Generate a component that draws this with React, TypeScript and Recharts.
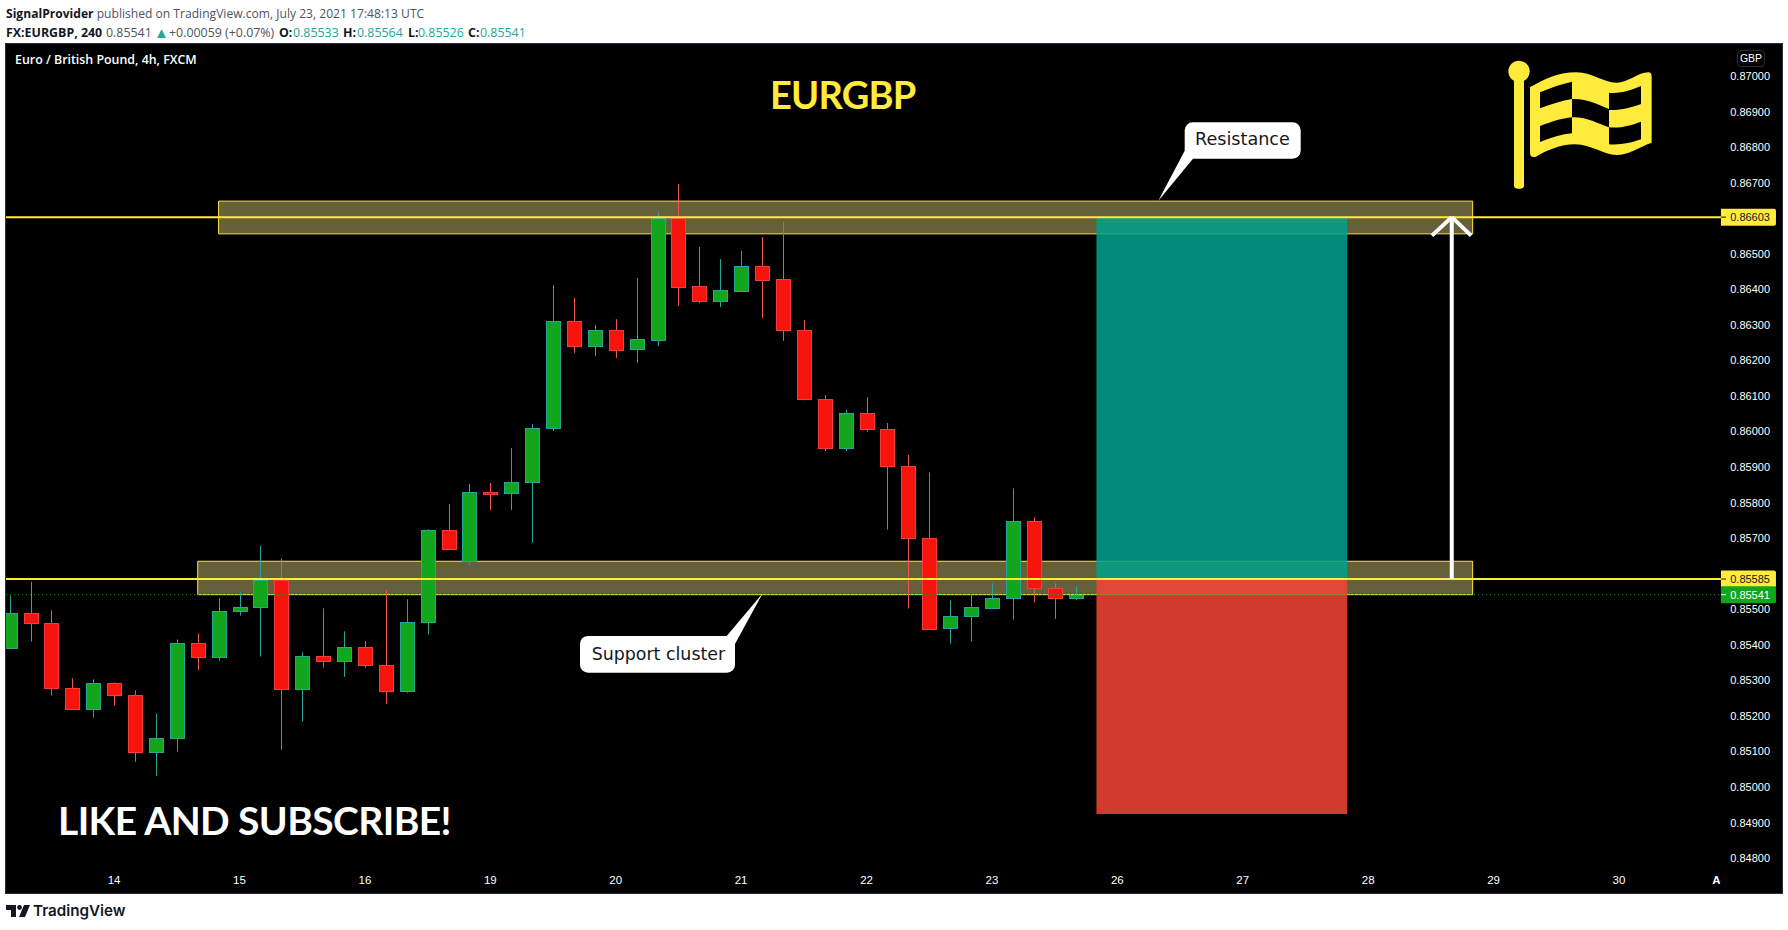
import { ComposedChart, Bar, XAxis, YAxis, ReferenceArea, ReferenceLine, ReferenceDot } from 'recharts';

// candles, oldest first
const opens = [
  0.8539, 0.85489, 0.8546, 0.85278, 0.8522, 0.85292, 0.85258, 0.85099, 0.85136, 0.85404, 0.85364, 0.85493, 0.85505,
  0.85581, 0.85274, 0.85368, 0.85355, 0.85393, 0.85342, 0.85268, 0.85462, 0.85722, 0.85634, 0.8583, 0.85825, 0.85857,
  0.86008, 0.8631, 0.86239, 0.86285, 0.8623, 0.86258, 0.866, 0.86408, 0.86365, 0.86396, 0.86465, 0.86428, 0.86285,
  0.86091, 0.85952, 0.86051, 0.86006, 0.85902, 0.857, 0.85445, 0.85479, 0.85504, 0.8553, 0.85747, 0.85559, 0.85533,
];
const closes = [
  0.85489, 0.8546, 0.85278, 0.8522, 0.85292, 0.85258, 0.85099, 0.85137, 0.85404, 0.85364, 0.85494, 0.85505, 0.85581,
  0.85274, 0.85368, 0.85355, 0.85393, 0.85341, 0.85268, 0.85463, 0.85722, 0.85668, 0.85829, 0.85825, 0.85857, 0.86009,
  0.8631, 0.86239, 0.86285, 0.8623, 0.86259, 0.866, 0.86407, 0.86365, 0.86397, 0.86465, 0.86427, 0.86284, 0.8609,
  0.85952, 0.86051, 0.86005, 0.85901, 0.85699, 0.85445, 0.8548, 0.85505, 0.85531, 0.85747, 0.85559, 0.8553, 0.85541,
];
const highs = [
  0.85538, 0.85577, 0.85497, 0.85306, 0.85303, 0.85294, 0.85272, 0.85207, 0.85415, 0.85432, 0.85532, 0.85548, 0.85678,
  0.85643, 0.85379, 0.85503, 0.85438, 0.8541, 0.85554, 0.85528, 0.85725, 0.85796, 0.85852, 0.85855, 0.85954, 0.86021,
  0.86412, 0.86376, 0.863, 0.86316, 0.86432, 0.86617, 0.86696, 0.86519, 0.86485, 0.86508, 0.86547, 0.86589, 0.86314,
  0.86103, 0.86061, 0.86096, 0.86024, 0.85934, 0.85885, 0.85525, 0.85542, 0.85573, 0.8584, 0.85759, 0.85573, 0.85564,
];
const lows = [
  0.85388, 0.85409, 0.85257, 0.85218, 0.85195, 0.85229, 0.85071, 0.85032, 0.85099, 0.85329, 0.85355, 0.85482, 0.85367,
  0.85105, 0.85184, 0.85336, 0.8531, 0.85336, 0.85234, 0.85265, 0.85429, 0.85666, 0.85625, 0.85779, 0.85779, 0.85687,
  0.86001, 0.86221, 0.86212, 0.86207, 0.86193, 0.8624, 0.86353, 0.86361, 0.8635, 0.86392, 0.86319, 0.86255, 0.86088,
  0.85945, 0.85945, 0.85999, 0.85724, 0.85502, 0.85443, 0.85403, 0.85409, 0.85501, 0.85471, 0.85519, 0.85473, 0.85526,
];

const dayTicks = [5, 11, 17, 23, 29, 35, 41, 47, 53, 59, 65, 71, 77, 82];
const dayLabels = ['14', '15', '16', '19', '20', '21', '22', '23', '26', '27', '28', '29', '30', 'Aug'];
// 0.86600 and 0.85600 sit behind the price tags in the picture
const priceTicks = [
  0.87, 0.869, 0.868, 0.867, 0.865, 0.864, 0.863, 0.862, 0.861, 0.86, 0.859, 0.858, 0.857, 0.855, 0.854, 0.853, 0.852,
  0.851, 0.85, 0.849, 0.848,
];

const resistanceZone = { left: 10, right: 70, top: 0.86648, bottom: 0.86556 };
const supportZone = { left: 9, right: 70, top: 0.85635, bottom: 0.85541 };
const targetLevel = 0.86603;
const entryLevel = 0.85585;
const lastPrice = 0.85541;
const stopLevel = 0.84924;
const tradeStart = 52;
const tradeEnd = 64;
const arrowAt = 69;
const arrowLeft = 68.05;
const arrowRight = 69.93;
const arrowFoot = 0.86551;
const lineStart = -0.1722;
const lineEnd = 81.88;

const YELLOW = '#FFEB3B';
const GREEN = '#11A61C';
const GREEN_EDGE = '#26A69A';
const RED = '#F7140C';
const RED_EDGE = '#F23D3D';
const RED_WICK = '#EF5350';
const UI_FONT = '"Liberation Sans", sans-serif';
const TEAL_TEXT = '#26A69A';
const DARK_TEXT = '#131722';
const GREY_TEXT = '#50535E';

// second header line, as [text, left edge, colour, bold]
const quoteLine: [string, number, string, boolean][] = [
  ['FX:EURGBP, 240', 6, DARK_TEXT, true],
  ['0.85541', 106, GREY_TEXT, false],
  ['▲', 154, TEAL_TEXT, false],
  ['+0.00059 (+0.07%)', 169, GREY_TEXT, false],
  ['O:', 279, DARK_TEXT, true],
  ['0.85533', 293, TEAL_TEXT, false],
  ['H:', 343, DARK_TEXT, true],
  ['0.85564', 357, TEAL_TEXT, false],
  ['L:', 408, DARK_TEXT, true],
  ['0.85526', 418, TEAL_TEXT, false],
  ['C:', 468, DARK_TEXT, true],
  ['0.85541', 480, TEAL_TEXT, false],
];

const candles = opens.map((open, i) => ({ i, open, close: closes[i], high: highs[i], low: lows[i] }));

function Candle(props: any) {
  const { x, y, width, height, payload } = props;
  const up = payload.close >= payload.open;
  const range = payload.high - payload.low;
  const cx = Math.round(x + width / 2);
  const bodyTop = y + ((payload.high - Math.max(payload.open, payload.close)) / range) * height;
  const bodyBottom = y + ((payload.high - Math.min(payload.open, payload.close)) / range) * height;
  return (
    <g>
      <line x1={cx + 0.5} x2={cx + 0.5} y1={y} y2={y + height} stroke={up ? GREEN_EDGE : RED_WICK} />
      <rect
        x={cx - 6.5}
        y={Math.round(bodyTop) + 0.5}
        width={14}
        height={Math.max(Math.round(bodyBottom - bodyTop), 1)}
        fill={up ? GREEN : RED}
        stroke={up ? GREEN_EDGE : RED_EDGE}
      />
    </g>
  );
}

function PriceTick({ x, y, payload }: any) {
  return (
    <text x={1770} y={y + 4} textAnchor="end" fill="#fff" fontSize={11} fontFamily={UI_FONT}>
      {payload.value.toFixed(5)}
    </text>
  );
}

function DayTick({ x, y, index }: any) {
  const label = dayLabels[index];
  if (label === 'Aug') {
    return (
      <g>
        <clipPath id="month-clip">
          <rect x={x - 20} y={y} width={17} height={30} />
        </clipPath>
        <text x={x} y={y + 11} textAnchor="middle" fill="#fff" fontWeight={700} fontSize={11.5} fontFamily={UI_FONT} clipPath="url(#month-clip)">
          {label}
        </text>
      </g>
    );
  }
  return (
    <text x={x} y={y + 11} textAnchor="middle" fill="#fff" fontSize={11.5} fontFamily={UI_FONT}>
      {label}
    </text>
  );
}

function priceTag(price: number, fill: string, color: string) {
  return ({ cx, cy }: any) => (
    <g>
      <path d={`M${cx} ${cy - 8.5}h53a2 2 0 0 1 2 2v13a2 2 0 0 1 -2 2h-53z`} fill={fill} />
      <line x1={cx} x2={cx + 5} y1={cy} y2={cy} stroke={color} />
      <text x={cx + 49} y={cy + 4} textAnchor="end" fill={color} fontSize={11} fontFamily={UI_FONT}>
        {price.toFixed(5)}
      </text>
    </g>
  );
}

function Flag() {
  return (
    <svg width={388} height={240} viewBox="0 0 1164 720" style={{ position: 'absolute', left: 1400, top: 30 }}>
      <circle cx={357} cy={124} r={32} fill={YELLOW} />
      <rect x={342} y={130} width={30} height={346} rx={10} fill={YELLOW} />
      <path
        fill={YELLOW}
        fillRule="evenodd"
        d="M390 172 C430 150 470 127 530 127 C575 127 610 158 650 158 C685 158 715 127 745 127 Q755 127 755 140 L755 338
        C715 352 685 375 650 375 C610 375 575 343 525 343 C480 343 440 362 408 380 Q390 385 390 368 Z
        M420 187 C455 172 485 162 516 155 L516 207 C485 212 455 222 420 235 Z
        M420 288 C455 275 485 265 516 262 L516 310 C485 313 455 322 420 336 Z
        M516 207 C560 205 590 222 627 237 L627 292 C590 280 560 260 516 262 Z
        M627 188 C660 192 695 180 723 168 L723 222 C695 232 660 242 627 240 Z
        M627 292 C660 296 695 285 723 275 L723 328 C695 338 660 346 627 343 Z"
      />
    </svg>
  );
}

function Callouts() {
  return (
    <svg width={1788} height={930} style={{ position: 'absolute', left: 0, top: 0 }}>
      <path d="M1184.7 150.7 L1158.3 200.7 L1193 158.7 Z" fill="#fff" />
      <rect x={1184.7} y={122.3} width={116} height={36.4} rx={8} fill="#fff" />
      <text x={1195} y={145} fill={DARK_TEXT} fontSize={17.6} fontFamily='"DejaVu Sans", sans-serif'>
        Resistance
      </text>
      <path d="M726.7 636 L762.7 593.3 L735 644 Z" fill="#fff" />
      <rect x={580} y={636} width={155} height={36.7} rx={8} fill="#fff" />
      <text x={591.7} y={659.5} fill={DARK_TEXT} fontSize={17.4} fontFamily='"DejaVu Sans", sans-serif'>
        Support cluster
      </text>
    </svg>
  );
}

function Header() {
  const bold = { fontWeight: 700, color: DARK_TEXT };
  return (
    <div style={{ fontFamily: '"Open Sans", sans-serif', whiteSpace: 'nowrap' }}>
      <div style={{ position: 'absolute', left: 6, top: 4, fontSize: 12.1, lineHeight: '19px', color: GREY_TEXT }}>
        <span style={bold}>SignalProvider</span> published on TradingView.com, July 23, 2021 17:48:13 UTC
      </div>
      {quoteLine.map(([text, left, color, isBold]) => (
        <div
          key={`${text}-${left}`}
          style={{ position: 'absolute', left, top: 23, fontSize: text === '▲' ? 15 : 12.4, lineHeight: '19px', color, fontWeight: isBold ? 700 : 400 }}
        >
          {text}
        </div>
      ))}
    </div>
  );
}

export default function App() {
  return (
    <div style={{ position: 'absolute', left: 0, top: 0, width: 1788, height: 930, background: '#fff', overflow: 'hidden' }}>
      <Header />
      <div style={{ position: 'absolute', left: 5, top: 43, width: 1776, height: 849, background: '#000', border: '1px solid #2A2E39' }} />
      <div style={{ position: 'absolute', left: 0, top: 0 }}>
        <ComposedChart width={1788} height={930} data={candles} margin={{ top: 44, right: 6, bottom: 37, left: 6 }}>
          <XAxis
            dataKey="i"
            type="number"
            domain={[lineStart, 84.8]}
            allowDataOverflow
            ticks={dayTicks}
            interval={0}
            height={28}
            axisLine={false}
            tickLine={false}
            tick={DayTick}
          />
          <YAxis
            type="number"
            orientation="right"
            mirror
            width={60}
            domain={[0.847806, 0.8709]}
            allowDataOverflow
            ticks={priceTicks}
            interval={0}
            axisLine={false}
            tickLine={false}
            tick={PriceTick}
          />
          <ReferenceArea x1={resistanceZone.left} x2={resistanceZone.right} y1={resistanceZone.bottom} y2={resistanceZone.top} fill="#FCED91" fillOpacity={0.4} stroke="#FDE93F" />
          <ReferenceArea x1={supportZone.left} x2={supportZone.right} y1={supportZone.bottom} y2={supportZone.top} fill="#FCED91" fillOpacity={0.4} stroke="#FDE93F" />
          <ReferenceLine segment={[{ x: lineStart, y: targetLevel }, { x: lineEnd, y: targetLevel }]} stroke={YELLOW} strokeWidth={2} />
          <ReferenceLine segment={[{ x: lineStart, y: entryLevel }, { x: lineEnd, y: entryLevel }]} stroke={YELLOW} strokeWidth={2} />
          <ReferenceLine segment={[{ x: lineStart, y: lastPrice }, { x: lineEnd, y: lastPrice }]} stroke={GREEN} strokeDasharray="1 3" />
          <Bar dataKey={(d: any) => [d.low, d.high]} barSize={15} shape={Candle} isAnimationActive={false} />
          <ReferenceArea x1={tradeStart} x2={tradeEnd} y1={entryLevel} y2={targetLevel} fill="#00A28E" fillOpacity={0.86} />
          <ReferenceArea x1={tradeStart} x2={tradeEnd} y1={stopLevel} y2={entryLevel} fill="#F44336" fillOpacity={0.86} />
          <ReferenceLine segment={[{ x: arrowAt, y: entryLevel }, { x: arrowAt, y: targetLevel }]} stroke="#fff" strokeWidth={4} />
          <ReferenceLine segment={[{ x: arrowLeft, y: arrowFoot }, { x: arrowAt, y: targetLevel }]} stroke="#fff" strokeWidth={4} />
          <ReferenceLine segment={[{ x: arrowRight, y: arrowFoot }, { x: arrowAt, y: targetLevel }]} stroke="#fff" strokeWidth={4} />
          <ReferenceDot x={lineEnd} y={targetLevel} shape={priceTag(targetLevel, YELLOW, DARK_TEXT)} />
          <ReferenceDot x={lineEnd} y={entryLevel} shape={priceTag(entryLevel, YELLOW, DARK_TEXT)} />
          <ReferenceDot x={lineEnd} y={lastPrice} shape={priceTag(lastPrice, GREEN, '#fff')} />
        </ComposedChart>
      </div>
      <div style={{ position: 'absolute', left: 15, top: 51, color: '#fff', fontFamily: '"Open Sans", sans-serif', fontSize: 12.4, fontWeight: 600 }}>
        Euro / British Pound, 4h, FXCM
      </div>
      <div style={{ position: 'absolute', left: 770, top: 70, color: YELLOW, fontFamily: 'Lato, sans-serif', fontSize: 38, fontWeight: 700, lineHeight: '48px', letterSpacing: -0.8 }}>
        EURGBP
      </div>
      <div style={{ position: 'absolute', left: 58, top: 796, color: '#fff', fontFamily: 'Lato, sans-serif', fontSize: 39, fontWeight: 700, lineHeight: '48px', letterSpacing: -0.6, whiteSpace: 'nowrap' }}>
        LIKE AND SUBSCRIBE!
      </div>
      <Flag />
      <Callouts />
      <div style={{ position: 'absolute', left: 1737, top: 50, width: 28, height: 17, boxSizing: 'border-box', border: '1px solid #2A2E39', borderRadius: 4, color: '#fff', fontFamily: UI_FONT, fontSize: 10.5, lineHeight: '15px', textAlign: 'center' }}>
        GBP
      </div>
      <svg width={30} height={20} style={{ position: 'absolute', left: 4, top: 902 }}>
        <path d="M2 3h10v12h-5v-7H2z M20 3h6l-5 12h-6z" fill={DARK_TEXT} />
        <circle cx={15.5} cy={5.5} r={2.4} fill={DARK_TEXT} />
      </svg>
      <div style={{ position: 'absolute', left: 33, top: 901, color: DARK_TEXT, fontFamily: 'Inter, sans-serif', fontSize: 15.2, fontWeight: 600, lineHeight: '20px' }}>
        TradingView
      </div>
    </div>
  );
}
